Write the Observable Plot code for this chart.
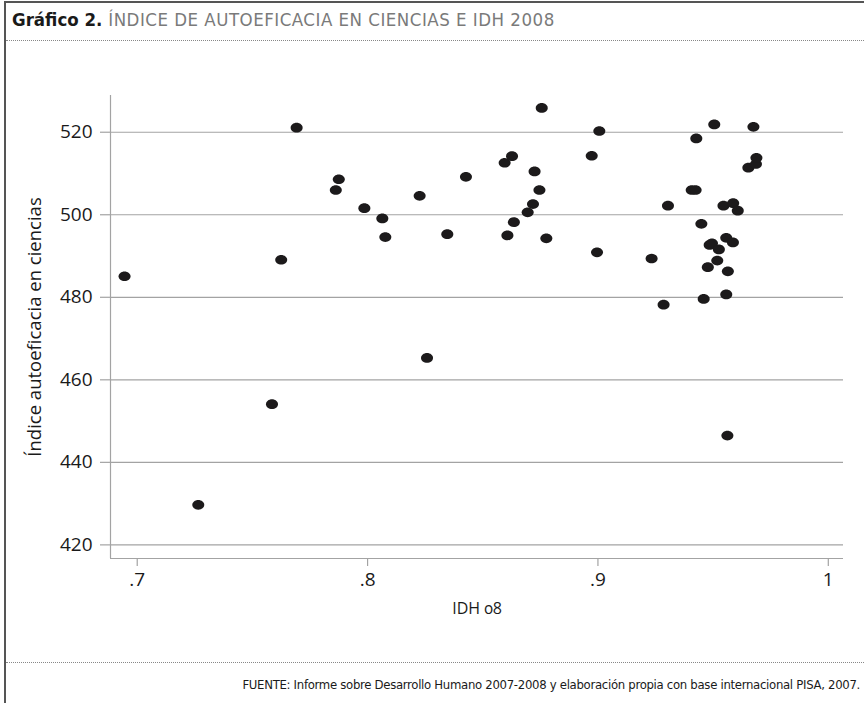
<!DOCTYPE html>
<html>
<head>
<meta charset="utf-8">
<script src="https://cdn.jsdelivr.net/npm/d3@7"></script>
<script src="https://cdn.jsdelivr.net/npm/@observablehq/plot@0.6"></script>
<style>
  html, body { margin: 0; padding: 0; background: #fff; }
  #wrap { position: relative; width: 864px; height: 703px; overflow: hidden; background: #fff; }
  #topline { position: absolute; left: 4px; top: 1px; width: 860px; height: 0; border-top: 2px solid #555; }
  #leftline { position: absolute; left: 4px; top: 1px; width: 0; height: 702px; border-left: 2px solid #555; }
  #title { position: absolute; left: 12px; top: 9px; font-family: "DejaVu Sans Condensed", "Liberation Sans Narrow", sans-serif; font-stretch: condensed; font-size: 18.5px; letter-spacing: 0.5px; white-space: nowrap; color: #7a7a7a; }
  #title b { color: #1a1a1a; letter-spacing: 0; }
  .dots { position: absolute; left: 6px; width: 858px; height: 0; border-top: 1px dotted #888; }
  #chart { position: absolute; left: 0; top: 40px; }
  #footer { position: absolute; right: 4px; top: 677px; font-family: "DejaVu Sans Condensed", "Liberation Sans Narrow", sans-serif; font-stretch: condensed; font-size: 13px; letter-spacing: -0.3px; color: #1a1a1a; white-space: nowrap; }
  #chart svg g[aria-label="y-axis tick label"] text,
  #chart svg g[aria-label="x-axis tick label"] text { font-size: 19px; }
</style>
</head>
<body>
<div id="wrap">
  <div id="topline"></div>
  <div id="leftline"></div>
  <div id="title"><b>Gráfico 2.</b> ÍNDICE DE AUTOEFICACIA EN CIENCIAS E IDH 2008</div>
  <div class="dots" style="top:40px"></div>
  <div id="chart"></div>
  <div class="dots" style="top:662px"></div>
  <div id="footer">FUENTE: Informe sobre Desarrollo Humano 2007-2008 y elaboración propia con base internacional PISA, 2007.</div>
</div>
<script>
// IDH 2008 values (x)
const idh = [
  0.6945, 0.7265, 0.7585, 0.7625, 0.7692, 0.7862, 0.7875, 0.7986, 0.8064, 0.8077,
  0.8226, 0.8258, 0.8346, 0.8427, 0.8595, 0.8627, 0.8607, 0.8635, 0.8695, 0.8718,
  0.8725, 0.8746, 0.8756, 0.8776, 0.8973, 0.9006, 0.8996, 0.9233, 0.9285, 0.9304,
  0.9407, 0.9424, 0.9427, 0.9449, 0.9459, 0.9477, 0.9485, 0.9495, 0.9505, 0.9518,
  0.9525, 0.9545, 0.9557, 0.9557, 0.9562, 0.9564, 0.9586, 0.9587, 0.9607, 0.9653,
  0.9675, 0.9686, 0.9688
];
// Índice de autoeficacia en ciencias (y)
const autoeficacia = [
  485.1, 429.7, 454.1, 489.1, 521.1, 506.0, 508.6, 501.6, 499.1, 494.6,
  504.6, 465.3, 495.3, 509.2, 512.6, 514.2, 495.0, 498.2, 500.6, 502.6,
  510.5, 506.0, 525.9, 494.3, 514.3, 520.3, 490.9, 489.4, 478.2, 502.2,
  506.0, 506.0, 518.5, 497.8, 479.6, 487.3, 492.7, 493.1, 521.9, 488.9,
  491.6, 502.2, 494.4, 480.7, 446.5, 486.3, 493.3, 502.8, 501.0, 511.4,
  521.3, 512.3, 513.8
];
const xTicks = [0.7, 0.8, 0.9, 1];
const yTicks = [420, 440, 460, 480, 500, 520];
const xDomain = [0.6884, 1.0066];
const yDomain = [416.7, 528.9];
const xLabel = "IDH 08";
const yLabel = "Índice autoeficacia en ciencias";

const data = idh.map((x, i) => ({x, y: autoeficacia[i]}));

// slightly elliptical dot symbol
const ellipse = {
  draw(ctx, size) {
    const r = Math.sqrt(size / Math.PI);
    const rx = r * 1.2, ry = r * 0.97, k = 0.5523;
    ctx.moveTo(rx, 0);
    ctx.bezierCurveTo(rx, ry * k, rx * k, ry, 0, ry);
    ctx.bezierCurveTo(-rx * k, ry, -rx, ry * k, -rx, 0);
    ctx.bezierCurveTo(-rx, -ry * k, -rx * k, -ry, 0, -ry);
    ctx.bezierCurveTo(rx * k, -ry, rx, -ry * k, rx, 0);
    ctx.closePath();
  }
};

const fmtX = d => d === 1 ? "1" : String(d).replace(/^0\./, ".");

const chart = Plot.plot({
  width: 864,
  height: 620,
  marginLeft: 110,
  marginRight: 21,
  marginTop: 55,
  marginBottom: 102,
  style: {
    fontFamily: "'Open Sans', 'Noto Sans', sans-serif",
    fontSize: "17px",
    background: "transparent",
    color: "#1a1a1a",
    fontVariantNumeric: "oldstyle-nums"
  },
  x: {domain: xDomain, label: null},
  y: {domain: yDomain, label: null},
  marks: [
    Plot.gridY(yTicks, {stroke: "#a3a3a3", strokeOpacity: 1, strokeWidth: 1.2}),
    Plot.ruleX([xDomain[0]], {stroke: "#a3a3a3", strokeWidth: 1.2}),
    Plot.ruleY([yDomain[0]], {stroke: "#a3a3a3", strokeWidth: 1.2}),
    Plot.axisY(yTicks, {tickSize: 10, tickPadding: 8, stroke: "#a3a3a3", strokeWidth: 1.2, fill: "#1a1a1a", label: null, fontSize: 19}),
    Plot.axisX(xTicks, {tickSize: 8, tickPadding: 6, stroke: "#a3a3a3", strokeWidth: 1.2, fill: "#1a1a1a", tickFormat: fmtX, label: null, fontSize: 19}),
    Plot.text([xLabel], {frameAnchor: "bottom", lineAnchor: "middle", dy: 50, fontSize: 16, fill: "#1a1a1a"}),
    Plot.text([yLabel], {frameAnchor: "left", rotate: -90, textAnchor: "middle", lineAnchor: "middle", dx: -75, fontSize: 18.5, fill: "#1a1a1a"}),
    Plot.dot(data, {x: "x", y: "y", r: 5, symbol: ellipse, fill: "#1c1a1b", stroke: "none"})
  ]
});
document.getElementById("chart").appendChild(chart);
</script>
</body>
</html>
